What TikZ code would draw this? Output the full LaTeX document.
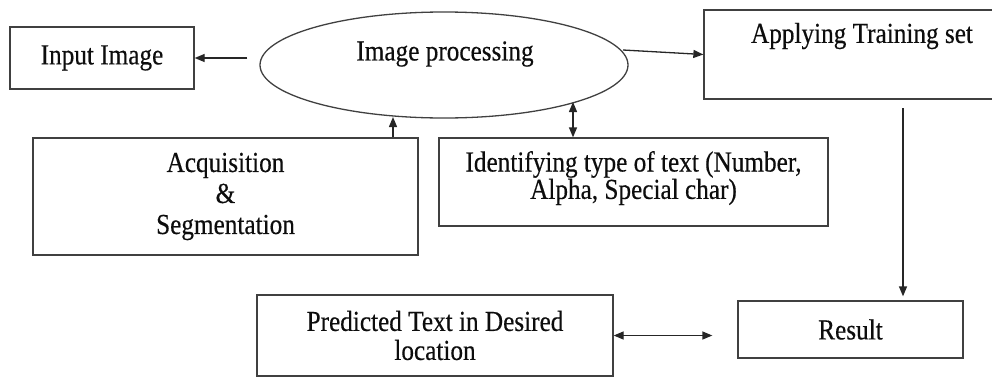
\documentclass[tikz,border=0pt]{standalone}
\usepackage{fontspec}
\setmainfont[FakeStretch=0.87,FakeBold=0.4]{Liberation Serif}
\usetikzlibrary{arrows.meta,shapes.geometric}
\begin{document}
\begin{tikzpicture}[x=1pt,y=-1pt,
  box/.style={draw=black!75,line width=1.3pt,rectangle,inner sep=0pt,align=center,text=black!95,font=\fontsize{29}{29}\selectfont},
  lbl/.style={inner sep=0pt,align=center,text=black!95,font=\fontsize{29}{29}\selectfont},
  arr/.style={draw=black!85,line width=1.3pt,-{Triangle[length=10pt,width=8pt]}},
  darr/.style={draw=black!85,line width=1.3pt,{Triangle[length=10pt,width=8pt]}-{Triangle[length=10pt,width=8pt]}}]
\useasboundingbox (0,0) rectangle (992,378);
\clip (0,0) rectangle (992,378);
\node[box,minimum width=184,minimum height=62] (inp) at (102,58) {Input Image};
\node[draw=black!75,line width=1.3pt,ellipse,minimum width=368,minimum height=106,inner sep=0pt] (ell) at (444,65) {};
\node[lbl] (ellt) at (445,54) {Image processing};
\node[box,minimum width=316,minimum height=89] (app) at (862,54.5) {};
\node[lbl] (appt) at (862,36) {Applying Training set};
\node[box,minimum width=385,minimum height=117,font=\fontsize{29}{31}\selectfont] (acq) at (225.5,196.5) {Acquisition\\\&\\Segmentation};
\node[box,minimum width=389,minimum height=88,font=\fontsize{29}{26}\selectfont,text depth=14pt] (ident) at (633.5,182) {Identifying type of text (Number,\\Alpha, Special char)};
\node[box,minimum width=356,minimum height=81] (pred) at (435,335.5) {Predicted Text in Desired\\location};
\node[box,minimum width=225,minimum height=57] (res) at (850.5,329.5) {Result};
\coordinate (e1) at (623,50);
\coordinate (a1) at (393,117);
\coordinate (d1) at (573,102);
\coordinate (r1) at (903,108);
\draw[arr] ([xshift=-12pt]ell.west |- inp.east) -- (inp.east);
\draw[arr] (e1) -- (app.west);
\draw[arr] (acq.north -| a1) -- (a1);
\draw[darr] (d1) -- (ident.north -| d1);
\draw[arr] (r1) -- ([yshift=4pt]res.north -| r1);
\draw[darr] (pred.east) -- ([xshift=-25pt]res.west |- pred.east);
\end{tikzpicture}
\end{document}
